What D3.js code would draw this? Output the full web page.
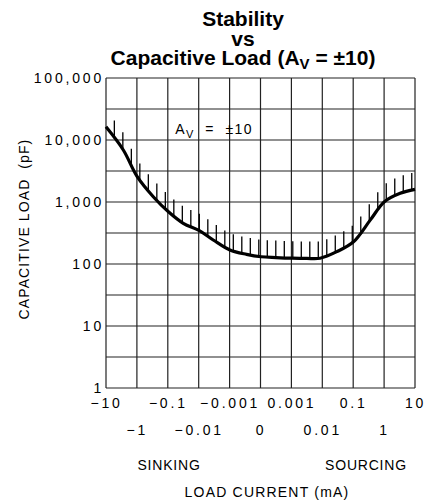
<!DOCTYPE html>
<html>
<head>
<meta charset="utf-8">
<script src="https://cdn.jsdelivr.net/npm/d3@7"></script>
<style>
  body { margin: 0; background: #fff; }
  text { font-family: "Liberation Sans", Arial, sans-serif; }
</style>
</head>
<body>
<script>
// x positions are grid divisions (0..10) of the load current axis
const xTickLabels = ["\u221210", "\u22121", "\u22120.1", "\u22120.01", "\u22120.001", "0",
                     "0.001", "0.01", "0.1", "1", "10"];
const yTickValues = [1, 10, 100, 1000, 10000, 100000];

// stability boundary
const curveX = [0, 0.56, 1.01, 1.53, 2.02, 2.5, 3.02, 3.47, 4.01, 4.55, 5.02, 5.5, 6.02,
                6.5, 6.93, 7.47, 8.01, 8.55, 9.01, 9.52, 10];
const curveC = [16300, 6900, 2560, 1216, 695, 453, 345, 244, 168, 143, 131, 127, 124,
                123, 124, 158, 228, 510, 1010, 1380, 1600];

const margin = { top: 78, right: 13, bottom: 116, left: 106 };
const width = 428 - margin.left - margin.right;
const height = 504 - margin.top - margin.bottom;

const svg = d3.select("body").append("svg")
    .attr("width", 428)
    .attr("height", 504);

// title
const title = svg.append("text")
    .style("text-anchor", "middle")
    .style("font-size", "21px")
    .style("font-weight", "bold");
title.append("tspan").attr("x", 243).attr("y", 26).text("Stability");
title.append("tspan").attr("x", 243).attr("y", 46).text("vs");
const t3 = svg.append("text")
    .attr("x", 243)
    .attr("y", 65)
    .style("text-anchor", "middle")
    .style("font-size", "21px")
    .style("font-weight", "bold");
t3.append("tspan").text("Capacitive Load (A");
t3.append("tspan").attr("dy", 4).style("font-size", "15px").text("V");
t3.append("tspan").attr("dy", -4).text(" = \u00b110)");

const g = svg.append("g")
    .attr("transform", "translate(" + margin.left + "," + margin.top + ")");

const xScale = d3.scaleLinear().domain([0, 10]).range([0, width]);
const yScale = d3.scaleLog().domain([1, 100000]).range([height, 0]);

// grid
const gridY = d3.range(11).map(k => Math.pow(10, k / 2));
g.selectAll(".gx")
    .data(d3.range(11))
    .enter().append("line")
    .attr("x1", d => xScale(d)).attr("x2", d => xScale(d))
    .attr("y1", 0).attr("y2", height)
    .style("stroke", "#222")
    .style("stroke-width", 1.2);
g.selectAll(".gy")
    .data(gridY)
    .enter().append("line")
    .attr("x1", 0).attr("x2", width)
    .attr("y1", d => yScale(d)).attr("y2", d => yScale(d))
    .style("stroke", "#222")
    .style("stroke-width", 1.2);

// y axis labels
const yAxis = g.append("g")
    .call(d3.axisLeft(yScale).tickValues(yTickValues).tickFormat(d3.format(",")).tickSize(0).tickPadding(2));
yAxis.select(".domain").remove();
yAxis.selectAll("text")
    .style("font-family", "Liberation Sans, Arial, sans-serif")
    .style("font-size", "14px")
    .style("letter-spacing", "2.8px")
    .attr("fill", "#000");

// x axis labels in two staggered rows
const xAxisTop = g.append("g")
    .attr("transform", "translate(0," + height + ")")
    .call(d3.axisBottom(xScale).tickValues([0, 2, 4, 6, 8, 10])
        .tickFormat(d => xTickLabels[d]).tickSize(0).tickPadding(10));
const xAxisBottom = g.append("g")
    .attr("transform", "translate(0," + height + ")")
    .call(d3.axisBottom(xScale).tickValues([1, 3, 5, 7, 9])
        .tickFormat(d => xTickLabels[d]).tickSize(0).tickPadding(37));
[xAxisTop, xAxisBottom].forEach(a => {
    a.select(".domain").remove();
    a.selectAll("text")
        .style("font-family", "Liberation Sans, Arial, sans-serif")
        .style("font-size", "14px")
        .style("letter-spacing", "2.8px")
        .attr("fill", "#000");
});

// axis titles
svg.append("text")
    .attr("x", 169).attr("y", 470)
    .style("text-anchor", "middle").style("font-size", "14px").style("letter-spacing", "0.8px")
    .text("SINKING");
svg.append("text")
    .attr("x", 366).attr("y", 470)
    .style("text-anchor", "middle").style("font-size", "14px").style("letter-spacing", "0.8px")
    .text("SOURCING");
svg.append("text")
    .attr("x", 267).attr("y", 497)
    .style("text-anchor", "middle").style("font-size", "14px").style("letter-spacing", "1.2px")
    .text("LOAD CURRENT (mA)");
svg.append("text")
    .attr("transform", "rotate(-90)")
    .attr("x", -229).attr("y", 29)
    .style("text-anchor", "middle").style("font-size", "14px").style("letter-spacing", "1.1px")
    .style("white-space", "pre")
    .text("CAPACITIVE LOAD  (pF)");

// gain annotation
const ann = g.append("text")
    .attr("x", xScale(2.24)).attr("y", yScale(12600))
    .style("font-size", "14px").style("letter-spacing", "1.4px")
    .style("white-space", "pre");
ann.append("tspan").text("A");
ann.append("tspan").attr("dy", 4).style("font-size", "11px").text("V");
ann.append("tspan").attr("dy", -4).text("  =  \u00b110");

// curve
const pts = curveX.map((x, i) => [x, curveC[i]]);
const line = d3.line()
    .x(d => xScale(d[0]))
    .y(d => yScale(d[1]))
    .curve(d3.curveCatmullRom.alpha(0.5));
const path = g.append("path")
    .datum(pts)
    .attr("d", line)
    .style("fill", "none")
    .style("stroke", "#000")
    .style("stroke-width", 3.2);

// hatch marks on the unstable side, placed along the drawn curve
const node = path.node();
const total = node.getTotalLength();
function yAtX(px) {
    let lo = 0, hi = total;
    for (let k = 0; k < 40; k++) {
        const mid = (lo + hi) / 2;
        if (node.getPointAtLength(mid).x < px) lo = mid; else hi = mid;
    }
    return node.getPointAtLength(lo).y;
}
const hatchX = d3.range(36).map(i => 0.27 + i * 0.275);
g.selectAll(".hatch")
    .data(hatchX)
    .enter().append("line")
    .attr("x1", d => xScale(d)).attr("x2", d => xScale(d))
    .attr("y1", d => yAtX(xScale(d)))
    .attr("y2", d => yAtX(xScale(d)) - 17)
    .style("stroke", "#000")
    .style("stroke-width", 1.3);
</script>
</body>
</html>
